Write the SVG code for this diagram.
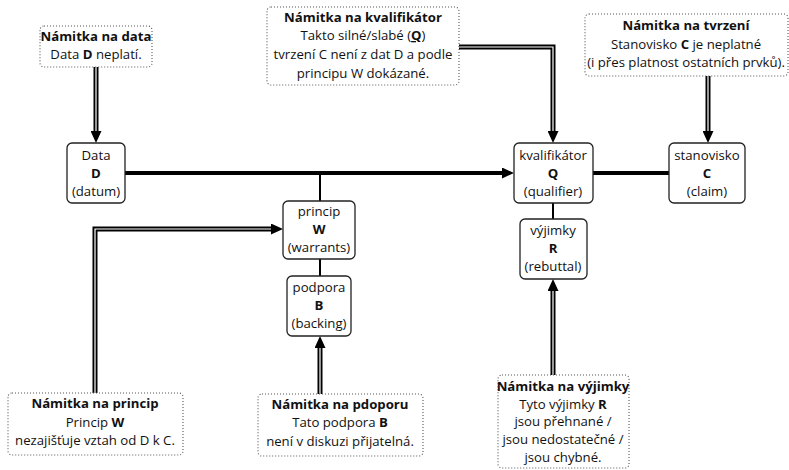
<svg xmlns="http://www.w3.org/2000/svg" width="789" height="470" viewBox="0 0 789 470">
<style>
text{font-family:"Open Sans","Noto Sans","DejaVu Sans",sans-serif;font-size:13.2px;fill:#111;text-anchor:middle}
.b{font-weight:bold}
.node{fill:#fff;stroke:#222;stroke-width:1.3}
.note{fill:#fff;stroke:#555;stroke-width:1.1;stroke-dasharray:1 2}
.dbl{fill:none;stroke:#000;stroke-width:5}
.dblin{fill:none;stroke:#fff;stroke-width:1.2}
.thick{fill:none;stroke:#000;stroke-width:4}
.thin{fill:none;stroke:#000;stroke-width:2}
</style>
<defs>
<marker id="ah" markerUnits="userSpaceOnUse" viewBox="0 0 12 11" refX="0" refY="5.5" markerWidth="12" markerHeight="11" orient="auto">
<path d="M0,0 L12,5.5 L0,11 z" fill="#000"/>
</marker>
</defs>
<rect width="789" height="470" fill="#fff"/>
<g id="connectors">
<path class="thick" d="M125,173 H502" marker-end="url(#ah)"/>
<path class="thick" d="M593,173 H669"/>
<path class="thin" d="M320,173 V201 M320,259 V276 M553,203 V219"/>
<path class="dbl" d="M96,67 V131" marker-end="url(#ah)"/>
<path class="dblin" d="M96,67 V131"/>
<path class="dbl" d="M459,47 H553 V131" marker-end="url(#ah)"/>
<path class="dblin" d="M459,47 H553 V131"/>
<path class="dbl" d="M708,76 V131" marker-end="url(#ah)"/>
<path class="dblin" d="M708,76 V131"/>
<path class="dbl" d="M95,393 V229 H271" marker-end="url(#ah)"/>
<path class="dblin" d="M95,393 V229 H271"/>
<path class="dbl" d="M320,394 V348" marker-end="url(#ah)"/>
<path class="dblin" d="M320,394 V348"/>
<path class="dbl" d="M553,375 V291" marker-end="url(#ah)"/>
<path class="dblin" d="M553,375 V291"/>
</g>
<g id="data">
<rect class="node" x="67" y="143" width="58" height="60" rx="5"/>
<text x="96" y="160">Data</text>
<text x="96" y="178" class="b">D</text>
<text x="96" y="196">(datum)</text>
</g>
<g id="princip">
<rect class="node" x="283" y="201" width="72" height="58" rx="5"/>
<text x="319" y="216">princip</text>
<text x="319" y="234" class="b">W</text>
<text x="319" y="252">(warrants)</text>
</g>
<g id="podpora">
<rect class="node" x="287" y="276" width="64" height="60" rx="5"/>
<text x="319" y="292">podpora</text>
<text x="319" y="310" class="b">B</text>
<text x="319" y="328">(backing)</text>
</g>
<g id="kvalifikator">
<rect class="node" x="514" y="143" width="79" height="60" rx="5"/>
<text x="553" y="160">kvalifikátor</text>
<text x="553" y="178" class="b">Q</text>
<text x="553" y="196">(qualifier)</text>
</g>
<g id="stanovisko">
<rect class="node" x="669" y="143" width="76" height="60" rx="5"/>
<text x="707" y="160">stanovisko</text>
<text x="707" y="178" class="b">C</text>
<text x="707" y="196">(claim)</text>
</g>
<g id="vyjimky">
<rect class="node" x="520" y="219" width="67" height="60" rx="5"/>
<text x="553" y="235">výjimky</text>
<text x="553" y="253" class="b">R</text>
<text x="553" y="271">(rebuttal)</text>
</g>
<g id="namitka-data">
<rect class="note" x="40" y="26" width="112" height="41" rx="4"/>
<text x="96" y="41" class="b">Námitka na data</text>
<text x="96" y="59">Data <tspan class="b">D</tspan> neplatí.</text>
</g>
<g id="namitka-kvalifikator">
<rect class="note" x="267" y="7" width="192" height="78" rx="4"/>
<text x="363" y="21.5" class="b">Námitka na kvalifikátor</text>
<text x="363" y="40">Takto silné/slabé (<tspan class="b" text-decoration="underline">Q</tspan>)</text>
<text x="363" y="59">tvrzení C není z dat D a podle</text>
<text x="363" y="77.5">principu W dokázané.</text>
</g>
<g id="namitka-tvrzeni">
<rect class="note" x="585" y="14" width="203" height="62" rx="4"/>
<text x="686" y="30" class="b">Námitka na tvrzení</text>
<text x="686" y="48.5">Stanovisko <tspan class="b">C</tspan> je neplatné</text>
<text x="686" y="67">(i přes platnost ostatních prvků).</text>
</g>
<g id="namitka-princip">
<rect class="note" x="8" y="393" width="175" height="62" rx="4"/>
<text x="95" y="408" class="b">Námitka na princip</text>
<text x="95" y="426.5">Princip <tspan class="b">W</tspan></text>
<text x="95" y="445">nezajišťuje vztah od D k C.</text>
</g>
<g id="namitka-podpora">
<rect class="note" x="258" y="394" width="165" height="62" rx="4"/>
<text x="340" y="409" class="b">Námitka na pdoporu</text>
<text x="340" y="427">Tato podpora <tspan class="b">B</tspan></text>
<text x="340" y="446">není v diskuzi přijatelná.</text>
</g>
<g id="namitka-vyjimky">
<rect class="note" x="498" y="375" width="131" height="93" rx="4"/>
<text x="563" y="391" class="b">Námitka na výjimky</text>
<text x="563" y="408.5">Tyto výjimky <tspan class="b">R</tspan></text>
<text x="563" y="426">jsou přehnané /</text>
<text x="563" y="444">jsou nedostatečné /</text>
<text x="563" y="462">jsou chybné.</text>
</g>
</svg>
